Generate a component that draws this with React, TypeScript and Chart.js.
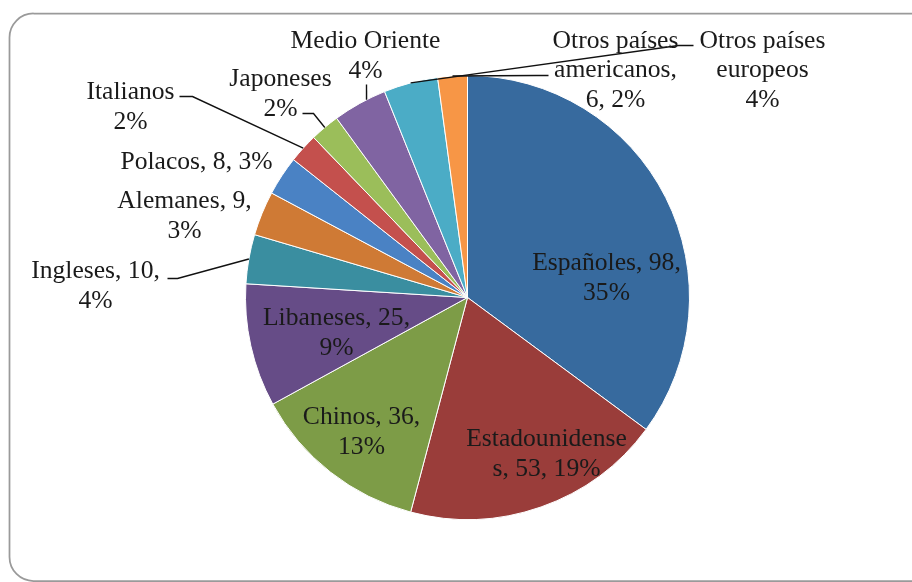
import React, { useEffect, useRef } from "react";
import { Chart, registerables } from "chart.js";

Chart.register(...registerables);

// ---- data ----
const categories = [
  "Españoles",
  "Estadounidenses",
  "Chinos",
  "Libaneses",
  "Ingleses",
  "Alemanes",
  "Polacos",
  "Italianos",
  "Japoneses",
  "Medio Oriente",
  "Otros países europeos",
  "Otros países americanos",
];
const values = [98, 53, 36, 25, 10, 9, 8, 6, 6, 11, 11, 6];
const colors = [
  "#376A9E",
  "#9A3D3A",
  "#7D9C47",
  "#664C87",
  "#3A8EA0",
  "#CF7A35",
  "#4A82C4",
  "#C4504D",
  "#9BBE5A",
  "#8064A2",
  "#4BACC6",
  "#F79646",
];

// ---- label layout (text templates + offsets from pie centre) ----
type Layout = {
  lines: string[];
  dx: number;
  dy: number;
  leader?: { pts: [number, number][]; frac: number };
};
const labelLayout: Layout[] = [
  { lines: ["{n}, {v},", "{p}%"], dx: 139, dy: -19 },
  { lines: ["Estadounidense", "s, {v}, {p}%"], dx: 79, dy: 157 },
  { lines: ["{n}, {v},", "{p}%"], dx: -106, dy: 135 },
  { lines: ["{n}, {v},", "{p}%"], dx: -131, dy: 36 },
  {
    lines: ["{n}, {v},", "{p}%"],
    dx: -372,
    dy: -11,
    leader: { pts: [[-300, -19], [-290, -19]], frac: 0.5 },
  },
  { lines: ["{n}, {v},", "{p}%"], dx: -283, dy: -81 },
  { lines: ["{n}, {v}, {p}%"], dx: -271, dy: -135 },
  {
    lines: ["{n}", "{p}%"],
    dx: -337,
    dy: -190,
    leader: { pts: [[-288, -201], [-275, -201]], frac: 0.5 },
  },
  {
    lines: ["{n}", "{p}%"],
    dx: -187,
    dy: -203,
    leader: { pts: [[-165, -184], [-154, -184]], frac: 0.5 },
  },
  {
    lines: ["{n}", "{p}%"],
    dx: -102,
    dy: -241,
    leader: { pts: [[-101, -213]], frac: 0.64 },
  },
  {
    lines: ["Otros países", "europeos", "{p}%"],
    dx: 295,
    dy: -227,
    leader: { pts: [[226, -252], [211, -252]], frac: 0.5 },
  },
  {
    lines: ["Otros países", "americanos,", "{v}, {p}%"],
    dx: 148,
    dy: -227,
    leader: { pts: [[81, -222], [69, -222]], frac: 0.5 },
  },
];

const FONT = "25.6px 'Liberation Serif', 'Times New Roman', serif";
const LINE_H = 29.5;

const labelPlugin = {
  id: "excelLabels",
  beforeDraw(chart: any) {
    const ctx = chart.ctx as CanvasRenderingContext2D;
    ctx.save();
    ctx.fillStyle = "#ffffff";
    ctx.fillRect(0, 0, chart.width, chart.height);
    ctx.strokeStyle = "#9a9a9a";
    ctx.lineWidth = 1.75;
    ctx.beginPath();
    (ctx as any).roundRect(9.5, 13.5, chart.width + 40, 567.5, 24);
    ctx.stroke();
    ctx.restore();
  },
  afterDraw(chart: any) {
    const ctx = chart.ctx as CanvasRenderingContext2D;
    const meta = chart.getDatasetMeta(0);
    const data: number[] = chart.data.datasets[0].data;
    const total = data.reduce((a, b) => a + b, 0);
    ctx.save();
    ctx.font = FONT;
    ctx.fillStyle = "#1a1a1a";
    ctx.textAlign = "center";
    ctx.textBaseline = "middle";
    meta.data.forEach((arc: any, i: number) => {
      const lay = labelLayout[i];
      if (!lay) return;
      const cx = arc.x;
      const cy = arc.y;
      const pct = Math.round((data[i] / total) * 100);
      const lines = lay.lines.map((t) =>
        t
          .replace("{n}", categories[i])
          .replace("{v}", String(data[i]))
          .replace("{p}", String(pct))
      );
      const bx = cx + lay.dx;
      const by = cy + lay.dy;
      const top = by - ((lines.length - 1) * LINE_H) / 2;
      lines.forEach((ln, k) => ctx.fillText(ln, bx, top + k * LINE_H));

      if (lay.leader) {
        const a =
          arc.startAngle + (arc.endAngle - arc.startAngle) * lay.leader.frac;
        const r = arc.outerRadius;
        const ex = cx + r * Math.cos(a);
        const ey = cy + r * Math.sin(a);
        ctx.strokeStyle = "#111";
        ctx.lineWidth = 1.4;
        ctx.beginPath();
        lay.leader.pts.forEach(([px, py], k) => {
          if (k === 0) ctx.moveTo(cx + px, cy + py);
          else ctx.lineTo(cx + px, cy + py);
        });
        ctx.lineTo(ex, ey);
        ctx.stroke();
      }
    });
    ctx.restore();
  },
};

export default function App() {
  const ref = useRef<HTMLCanvasElement | null>(null);
  useEffect(() => {
    if (!ref.current) return;
    const chart = new Chart(ref.current, {
      type: "pie",
      data: {
        labels: categories,
        datasets: [
          {
            data: values,
            backgroundColor: colors,
            borderColor: "#ffffff",
            borderWidth: 1,
          },
        ],
      },
      options: {
        animation: false,
        responsive: true,
        maintainAspectRatio: false,
        layout: { padding: { left: 245, right: 222, top: 75, bottom: 62 } },
        plugins: {
          legend: { display: false },
          tooltip: { enabled: false },
        },
      },
      plugins: [labelPlugin],
    });
    return () => chart.destroy();
  }, []);
  return (
    <div
      style={{
        position: "fixed",
        left: 0,
        top: 0,
        width: 912,
        height: 582,
        background: "#fff",
      }}
    >
      <canvas ref={ref} />
    </div>
  );
}
